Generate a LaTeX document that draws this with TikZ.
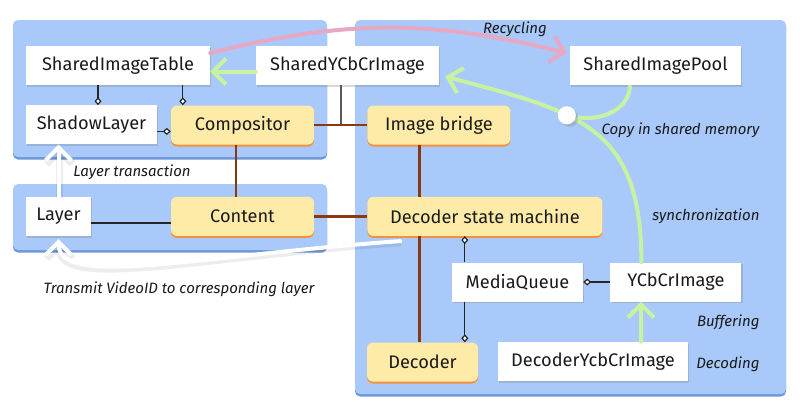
\documentclass[tikz,border=0pt]{standalone}
\usepackage{fontspec}
\setmainfont{Fira Sans}
\usetikzlibrary{arrows.meta,positioning,shadows}

\definecolor{panelblue}{HTML}{A8C9FA}
\definecolor{paneledge}{HTML}{6E98DA}
\definecolor{boxyellow}{HTML}{FEEBA8}
\definecolor{boxedge}{HTML}{F5913C}
\definecolor{linkbrown}{HTML}{8A3A10}
\definecolor{flowgreen}{HTML}{C6F2A2}
\definecolor{flowpink}{HTML}{E6A8C2}
\definecolor{textdark}{HTML}{1A1A1A}

\begin{document}
\begin{tikzpicture}
[x=1pt, y=1pt,
% STYLES
every node/.style={text=textdark},
% The panel style is used for the blue process areas
panel/.style={fill=panelblue, rounded corners=5pt, preaction={fill=paneledge, transform canvas={yshift=-2.5pt}}},
% The box style is used to draw the classes
box/.style={rectangle, fill=white, inner sep=0pt, minimum height=39pt, font=\fontsize{18.2}{20}\selectfont, drop shadow={shadow xshift=1.2pt, shadow yshift=-1.5pt, opacity=0.3}},
% The ybox style is used to draw the threads
ybox/.style={rectangle, rounded corners=6pt, fill=boxyellow, inner sep=0pt, minimum height=39pt, font=\fontsize{18.2}{20}\selectfont, preaction={fill=boxedge, transform canvas={yshift=-2pt}}},
% The note style is used to describe the flows
note/.style={font=\itshape\fontsize{15}{17}\selectfont},
has/.style={-{Diamond[fill=white, length=8pt, width=7pt]}, line width=1.2pt, black!85},
link/.style={line width=2.8pt, linkbrown},
flow/.style={line width=4pt, line cap=round, -{Straight Barb[length=13pt, width=26pt]}},
whiteflow/.style={flow, white, preaction={draw=black, opacity=0.07, line width=7pt, transform canvas={shift={(1pt,-1.5pt)}}}}]

\fill[white] (0,0) rectangle (800,-407);
\useasboundingbox (0,0) rectangle (800,-407);

% Draw panels
\fill[panel] (13,-20) rectangle (327,-157);
\fill[panel] (13,-184) rectangle (327,-250);
\fill[panel] (355,-20) rectangle (786,-394);

% Draw classes
\node [box, minimum width=184pt] (table) at (118,-65.5) {SharedImageTable};
\node [box, minimum width=131pt, below=20pt of table.south west, anchor=north west] (shadowl) {ShadowLayer};
\node [box, minimum width=183pt] (syimg) at (347.5,-65.5) {SharedYCbCrImage};
\node [box, minimum width=171pt] (pool) at (655.5,-65.5) {SharedImagePool};
\node [box, minimum width=65pt] (layer) at (58.5,-216.5) {Layer};
\node [box, minimum width=131pt] (mqueue) at (517.5,-282) {MediaQueue};
\node [box, minimum width=131pt, right=27pt of mqueue] (yimg) {YCbCrImage};
\node [box, minimum width=190pt] (dyimg) at (593,-361.5) {DecoderYcbCrImage};

% Draw threads
\node [ybox, minimum width=143pt] (comp) at (242.5,-125) {Compositor};
\node [ybox, minimum width=143pt, right=53pt of comp] (bridge) {Image bridge};
\node [ybox, minimum width=143pt, below=52pt of comp] (content) {Content};
\node [ybox, minimum width=235pt, right=53pt of content] (dsm) {Decoder state machine};
\node [ybox, minimum width=111pt] (decoder) at (422.5,-362) {Decoder};

% Notes
\node [note] (recycling) at (515,-29) {Recycling};
\node [note, anchor=east] (copy) at (763,-130) {Copy in shared memory};
\node [note, anchor=east] (sync) at (763,-216) {synchronization};
\node [note, anchor=east] (buffering) at (763,-322) {Buffering};
\node [note, anchor=east] (decoding) at (763,-364) {Decoding};
\node [note] (transaction) at (132,-172) {Layer transaction};
\node [note] (transmit) at (179,-289) {Transmit VideoID to corresponding layer};

% Draw the links between classes
\draw[has] ([xshift=6.5pt]shadowl.north |- table.south) -- ([xshift=6.5pt]shadowl.north);
\draw[has] ([xshift=12pt]comp.north west |- table.south) -- ([xshift=12pt]comp.north west);
\draw[has] ([yshift=-6.5pt]shadowl.east) -- ([yshift=-6.5pt]shadowl.east -| comp.west);
\draw[has, -] ([yshift=-6.5pt]layer.east) -- ([yshift=-6.5pt]layer.east -| content.west);
\draw[has] ([xshift=13pt]mqueue.north west) -- ([xshift=13pt]mqueue.north west |- dsm.south);
\draw[has] ([xshift=13pt]mqueue.south west) -- ([xshift=13pt]mqueue.south west |- decoder.north);
\draw[has] (yimg) -- (mqueue);

% Draw the links between threads
\draw[line width=2pt, black!65] ([xshift=-6.5pt]syimg.south) -- ([xshift=-6.5pt]syimg.south |- comp.east);
\path[link]
    (comp) edge (bridge)
    (content) edge (dsm)
    ([xshift=-6.5pt]comp.south) edge ([xshift=-6.5pt]content.north)
    ([xshift=-19.5pt]bridge.south) edge ([xshift=-19.5pt]bridge.south |- dsm.north)
    ([xshift=-19.5pt]bridge.south |- dsm.south) edge ([xshift=-19.5pt]bridge.south |- decoder.north);

% Draw the image flows
\draw[flow, flowgreen] ([yshift=-6pt]syimg.west) -- ([yshift=-6pt]syimg.west -| table.east);
\draw[flow, flowpink] ([yshift=12.5pt]table.east) to[bend left=14] ([xshift=-3pt, yshift=12.5pt]pool.west);
\draw[flow, flowgreen] ([xshift=-34.5pt]yimg.north) to[out=90, in=-15, looseness=1.3]
    node[pos=0.62, circle, fill=white, minimum size=18pt, inner sep=0pt, drop shadow={opacity=0.3}] (hub) {}
    ([xshift=6pt, yshift=-11pt]syimg.east);
\draw[flowgreen, line width=4pt] ([xshift=-25.5pt]pool.south) to[out=-90, in=-10] (hub);
\draw[flow, flowgreen] ([xshift=48pt]dyimg.north) -- ([xshift=48pt]dyimg.north |- yimg.south);

% Draw the layer flows
\draw[whiteflow] (layer.north) -- (layer.north |- shadowl.south);
\draw[whiteflow] ([xshift=33pt, yshift=-5pt]dsm.south west) .. controls +(184:200) and +(-90:50) .. ([yshift=-3pt]layer.south);

\end{tikzpicture}
\end{document}
